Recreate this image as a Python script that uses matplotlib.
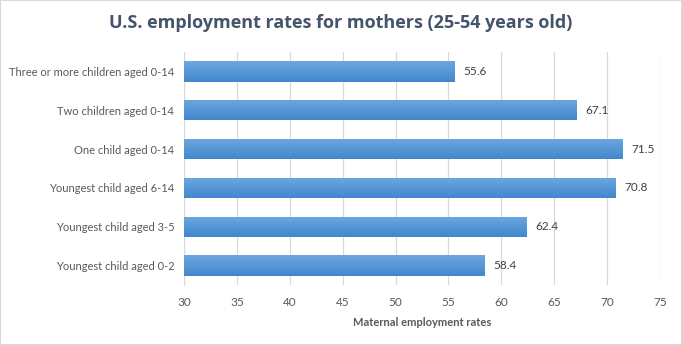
import numpy as np
import matplotlib
matplotlib.use('Agg')
from matplotlib import pyplot as plt
from matplotlib.colors import LinearSegmentedColormap

categories = ['Youngest child aged 0-2', 'Youngest child aged 3-5',
              'Youngest child aged 6-14', 'One child aged 0-14',
              'Two children aged 0-14', 'Three or more children aged 0-14']
rates = [58.4, 62.4, 70.8, 71.5, 67.1, 55.6]
xticks = [30, 35, 40, 45, 50, 55, 60, 65, 70, 75]

plt.rcParams['font.family'] = ['Lato', 'DejaVu Sans']
txt = '#595959'

fig = plt.figure(figsize=(6.82, 3.45), dpi=100)
ax = fig.add_axes([184 / 682, 1 - 285 / 345, 476 / 682, 233 / 345])

y = np.arange(len(categories))
bars = ax.barh(y, rates, height=0.52, left=0, color='none', zorder=3)
ax.set_xlim(30, 75)
ax.set_ylim(-0.5, len(categories) - 0.5)

cmap = LinearSegmentedColormap.from_list('g', ['#4287CD', '#6DA7DF'])
grad = np.linspace(0, 1, 64).reshape(-1, 1)
for b in bars:
    x0, y0, w, h = b.get_x(), b.get_y(), b.get_width(), b.get_height()
    im = ax.imshow(grad, cmap=cmap, aspect='auto', origin='lower',
                   extent=[30, x0 + w, y0, y0 + h], zorder=3)
    im.set_clip_path(b)

for yi, v in zip(y, rates):
    ax.text(v + 0.8, yi, f'{v}', va='center', ha='left', fontsize=8.5, color='#404040')

ax.set_xticks(xticks)
ax.set_yticks(y)
ax.set_yticklabels(categories)
ax.tick_params(axis='both', length=0, labelsize=8.5, colors=txt, pad=6)
ax.tick_params(axis='y', labelsize=8, pad=7)
ax.tick_params(axis='x', pad=9)
ax.grid(axis='x', color='#D9D9D9', linewidth=0.9, zorder=0)
for s in ['top', 'right', 'bottom']:
    ax.spines[s].set_visible(False)
ax.spines['left'].set_color('#D9D9D9')
ax.set_xlabel('Maternal employment rates', fontsize=8, fontweight='bold',
              color=txt, labelpad=6)

fig.text(0.5, 1 - 23 / 345, 'U.S. employment rates for mothers (25-54 years old)',
         ha='center', va='center', fontsize=13, fontweight='bold', color='#44546A',
         family=['Open Sans', 'DejaVu Sans'])

fig.patches.append(plt.Rectangle((0, 0), 1, 1, transform=fig.transFigure,
                                 fill=False, edgecolor='#D9D9D9', linewidth=1.5))

plt.savefig('out.png', dpi=100)
